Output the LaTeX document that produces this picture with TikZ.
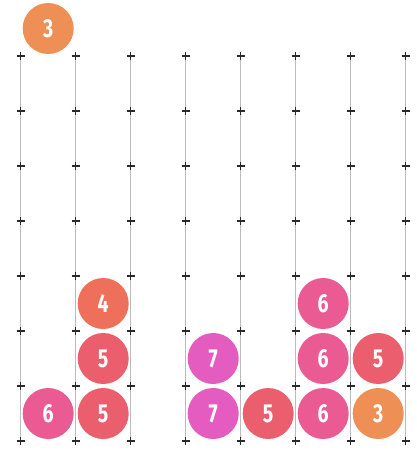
\documentclass[tikz,border=0pt]{standalone}
\usepackage{fontspec}
\setmainfont{Fira Sans}
\definecolor{cthree}{HTML}{EE8F55}
\definecolor{cfour}{HTML}{EE6F5A}
\definecolor{cfive}{HTML}{EA5E6E}
\definecolor{csix}{HTML}{EA5B94}
\definecolor{cseven}{HTML}{E45CC0}
\definecolor{gridgray}{HTML}{BBBBBB}
\definecolor{crossgray}{HTML}{2A2A2A}
\tikzset{
  ball/.style={circle, minimum size=51pt, inner sep=0pt, text=white,
    font=\fontsize{26}{26}\selectfont\bfseries},
  gridline/.style={draw=gridgray, line width=1pt},
  crossmark/.style={draw=crossgray, line width=1.3pt}
}
\newcommand{\digitlab}[1]{\scalebox{0.75}[1]{#1}}
\begin{document}
\begin{tikzpicture}[x=1pt,y=-1pt]
\useasboundingbox (0,0) rectangle (417,450);
% vertical grid lines
\foreach \i in {0,...,7} {
  \draw[gridline] (20.7+55*\i,56) -- (20.7+55*\i,441);
}
% crosses
\foreach \i in {0,...,7} {
  \foreach \j in {0,...,7} {
    \draw[crossmark] (20.7+55*\i-4,56+55*\j) -- (20.7+55*\i+4,56+55*\j);
    \draw[crossmark] (20.7+55*\i,56+55*\j-4) -- (20.7+55*\i,56+55*\j+4);
  }
}
% balls
\node[ball, fill=cthree] (t3) at (48.2,28.5) {\digitlab{3}};
\node[ball, fill=csix] (a0) at (48.2,413.5) {\digitlab{6}};
\node[ball, fill=cfive] (b0) at (103.2,413.5) {\digitlab{5}};
\node[ball, fill=cfive] (b1) at (103.2,358.5) {\digitlab{5}};
\node[ball, fill=cfour] (b2) at (103.2,303.5) {\digitlab{4}};
\node[ball, fill=cseven] (d0) at (213.2,413.5) {\digitlab{7}};
\node[ball, fill=cseven] (d1) at (213.2,358.5) {\digitlab{7}};
\node[ball, fill=cfive] (e0) at (268.2,413.5) {\digitlab{5}};
\node[ball, fill=csix] (f0) at (323.2,413.5) {\digitlab{6}};
\node[ball, fill=csix] (f1) at (323.2,358.5) {\digitlab{6}};
\node[ball, fill=csix] (f2) at (323.2,303.5) {\digitlab{6}};
\node[ball, fill=cthree] (g0) at (378.2,413.5) {\digitlab{3}};
\node[ball, fill=cfive] (g1) at (378.2,358.5) {\digitlab{5}};
\end{tikzpicture}
\end{document}
